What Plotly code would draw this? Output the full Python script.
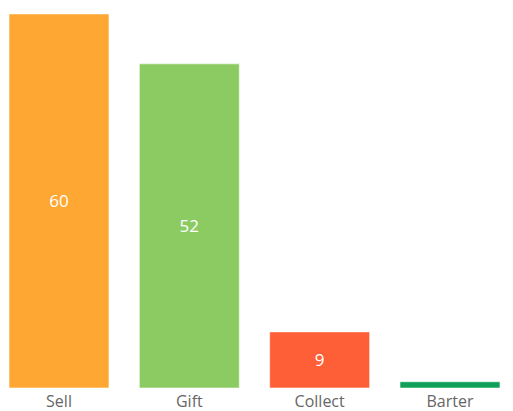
import plotly.graph_objects as go

categories = ["Sell", "Gift", "Collect", "Barter"]
values = [60, 52, 9, 1]
colors = ["#FEA833", "#8CCB62", "#FF5F36", "#0FA05A"]

fig = go.Figure(go.Bar(
    x=categories,
    y=values,
    text=[str(v) for v in values],
    textposition="inside",
    insidetextanchor="middle",
    textfont=dict(color="white", size=17, family="Open Sans"),
    marker=dict(color=colors, line=dict(color="rgba(255,255,255,0.55)", width=1)),
    width=0.767,
    hoverinfo="skip",
))

fig.update_layout(
    width=505, height=403,
    margin=dict(l=0, r=0, t=0, b=23),
    paper_bgcolor="white", plot_bgcolor="white",
    showlegend=False,
    uniformtext=dict(minsize=14, mode="hide"),
    xaxis=dict(range=[-0.3913, 3.4835], showgrid=False, zeroline=False, showline=False,
               ticks="", ticklabelstandoff=2, automargin=False,
               tickfont=dict(size=16, color="#666666", family="Open Sans")),
    yaxis=dict(range=[0, 60.96], visible=False, showgrid=False, zeroline=False),
)

fig.write_html("out.html")
